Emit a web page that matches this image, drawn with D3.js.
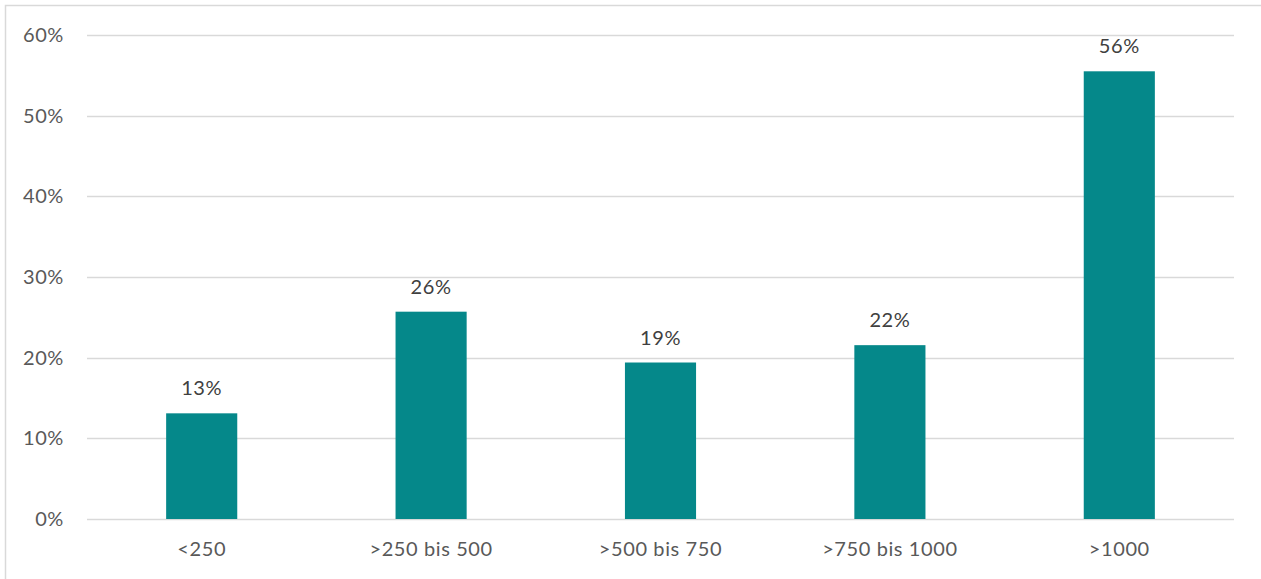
<!DOCTYPE html>
<html>
<head>
<meta charset="utf-8">
<script src="https://cdn.jsdelivr.net/npm/d3@7"></script>
<style>
  html, body { margin: 0; padding: 0; background: #fff; }
  svg { display: block; }
  text { font-family: Lato, "Open Sans", sans-serif; letter-spacing: 0.6px; }
</style>
</head>
<body>
<svg id="chart" width="1261" height="579"></svg>
<script>
// Share per size class
const categories = ["<250", ">250 bis 500", ">500 bis 750", ">750 bis 1000", ">1000"];
const shares = [0.131, 0.257, 0.194, 0.2155, 0.555];
const yTicks = [0, 0.1, 0.2, 0.3, 0.4, 0.5, 0.6];

const W = 1261, H = 579;
const plot = { left: 87, right: 1234, top: 35, bottom: 519 };
const FONT = 20;

const svg = d3.select("#chart");

// Outer frame
svg.append("rect")
  .attr("x", 5.5).attr("y", 5.5)
  .attr("width", W + 10).attr("height", H + 10)
  .attr("fill", "none").attr("stroke", "#d9d9d9").attr("stroke-width", 1.5);

const x = d3.scaleBand().domain(categories).range([plot.left, plot.right]).padding(0);
const y = d3.scaleLinear().domain([0, 0.6]).range([plot.bottom, plot.top]);
const barW = x.bandwidth() * 0.31;

// Horizontal gridlines
svg.append("g")
  .selectAll("line")
  .data(yTicks)
  .join("line")
  .attr("x1", plot.left).attr("x2", plot.right)
  .attr("y1", d => Math.round(y(d)) + 0.5).attr("y2", d => Math.round(y(d)) + 0.5)
  .attr("stroke", "#d9d9d9").attr("stroke-width", 1.5);

// Y axis labels
const yAxis = d3.axisLeft(y).tickValues(yTicks).tickFormat(d3.format(".0%")).tickSize(0).tickPadding(0);
const gy = svg.append("g").attr("transform", `translate(64,0)`).call(yAxis);
gy.select(".domain").remove();
gy.selectAll("text")
  .attr("fill", "#595959").attr("font-size", FONT)
  .attr("font-family", "Lato, 'Open Sans', sans-serif");

// Bars
svg.append("g")
  .selectAll("rect")
  .data(shares)
  .join("rect")
  .attr("x", (d, i) => x(categories[i]) + (x.bandwidth() - barW) / 2)
  .attr("y", d => y(d))
  .attr("width", barW)
  .attr("height", d => y(0) - y(d))
  .attr("fill", "#05888a");

// Value labels
svg.append("g")
  .selectAll("text")
  .data(shares)
  .join("text")
  .attr("x", (d, i) => x(categories[i]) + x.bandwidth() / 2)
  .attr("y", d => y(d) - 18)
  .attr("text-anchor", "middle")
  .attr("font-size", FONT)
  .attr("fill", "#404040")
  .text(d => d3.format(".0%")(d));

// Category labels
const xAxis = d3.axisBottom(x).tickSize(0).tickPadding(0);
const gx = svg.append("g").attr("transform", `translate(0,${plot.bottom + 23})`).call(xAxis);
gx.select(".domain").remove();
gx.selectAll("text")
  .attr("fill", "#595959").attr("font-size", FONT)
  .attr("font-family", "Lato, 'Open Sans', sans-serif");
</script>
</body>
</html>
